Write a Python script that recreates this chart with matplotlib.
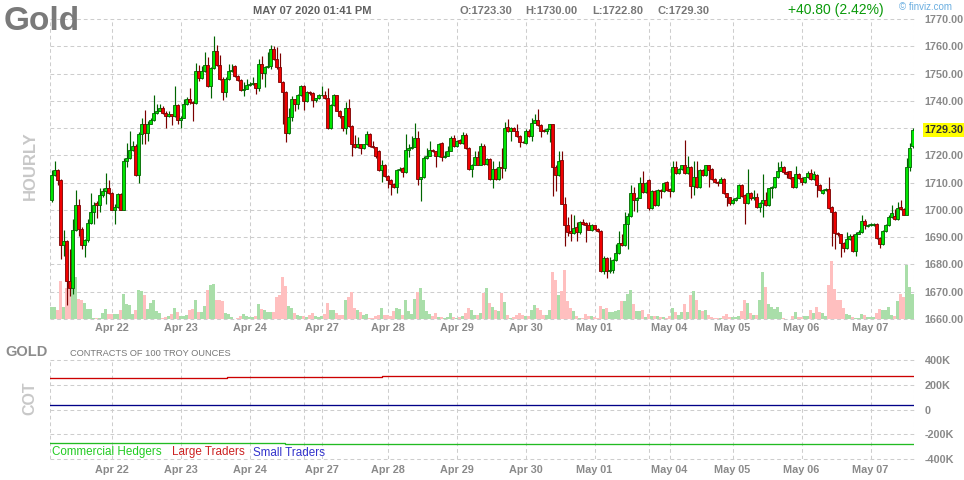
import matplotlib
matplotlib.use("Agg")
import matplotlib.pyplot as plt

plt.rcParams['font.family'] = ['Liberation Sans', 'DejaVu Sans']

# ---------------- data ----------------
opens = [
 1703.5,1712.8,1714.6,1711.0,1687.2,1688.5,1674.0,1671.5,1692.7,1701.7,
 1693.1,1687.2,1688.8,1695.3,1699.3,1702.7,1701.7,1705.4,1706.9,1707.9,
 1706.3,1700.1,1701.1,1705.7,1700.1,1717.8,1719.0,1722.1,1723.3,1712.8,
 1728.0,1731.4,1728.3,1731.6,1732.8,1735.6,1736.3,1737.3,1735.7,1734.4,
 1735.1,1734.3,1738.4,1732.8,1733.8,1738.8,1740.5,1739.4,1739.1,1750.9,
 1748.4,1750.9,1753.0,1745.3,1752.0,1758.3,1753.0,1748.0,1743.1,1748.0,
 1750.9,1752.7,1749.0,1747.8,1744.0,1744.4,1745.8,1746.2,1746.4,1744.7,
 1753.6,1750.1,1752.3,1752.6,1759.1,1755.4,1752.3,1747.0,1743.1,1728.3,
 1734.1,1740.5,1738.8,1742.2,1745.4,1739.8,1743.1,1742.7,1740.4,1741.0,
 1742.0,1742.1,1741.0,1729.9,1738.4,1742.0,1736.3,1734.3,1729.9,1737.5,
 1730.7,1724.2,1723.0,1724.0,1722.7,1724.0,1727.9,1723.6,1723.0,1721.7,
 1714.6,1716.5,1712.6,1711.0,1709.4,1708.3,1714.7,1715.3,1713.8,1722.1,
 1722.7,1723.2,1726.4,1711.2,1712.0,1719.0,1719.9,1722.0,1721.5,1719.6,
 1724.6,1719.3,1719.9,1721.7,1726.4,1723.3,1725.7,1724.4,1727.3,1722.7,
 1714.9,1716.5,1719.4,1716.5,1723.6,1716.8,1718.8,1711.2,1714.9,1711.2,
 1715.9,1715.3,1730.4,1728.9,1730.1,1729.1,1727.0,1724.9,1724.6,1729.1,
 1727.0,1732.0,1732.8,1731.1,1729.1,1729.0,1729.5,1731.4,1715.9,1712.8,
 1718.3,1702.3,1694.3,1692.2,1691.6,1693.7,1691.9,1695.6,1695.3,1694.3,
 1692.7,1694.3,1693.1,1692.2,1677.5,1682.2,1677.5,1678.0,1681.6,1684.2,
 1687.8,1687.2,1694.9,1697.8,1706.1,1703.6,1704.4,1710.0,1706.7,1711.0,
 1700.7,1706.9,1701.7,1707.3,1706.9,1710.4,1707.7,1706.9,1715.9,1713.5,
 1714.9,1716.3,1713.5,1715.9,1708.9,1712.2,1708.5,1714.6,1712.8,1716.3,
 1715.1,1711.2,1710.4,1710.0,1711.4,1706.1,1704.6,1702.7,1703.6,1704.4,
 1709.1,1705.4,1702.7,1706.3,1704.2,1704.8,1701.1,1702.6,1703.8,1701.7,
 1707.9,1708.3,1711.9,1714.3,1715.8,1713.8,1714.1,1711.9,1708.5,1713.1,
 1711.6,1710.4,1712.0,1713.5,1711.2,1712.8,1709.1,1706.1,1707.3,1707.7,
 1701.1,1699.3,1691.5,1691.0,1687.8,1685.9,1689.4,1690.6,1684.9,1691.2,
 1691.9,1695.8,1694.1,1694.3,1694.3,1694.9,1689.6,1687.5,1692.1,1694.3,
 1697.4,1697.7,1696.5,1701.1,1700.5,1698.3,1715.9,1723.3]

highs = [
 1714.7,1717.8,1715.1,1711.2,1692.5,1688.8,1685.7,1696.5,1707.3,1703.9,
 1693.6,1689.4,1696.8,1706.1,1703.0,1703.2,1707.9,1707.9,1713.5,1711.0,
 1706.7,1702.3,1706.1,1706.1,1719.0,1724.6,1729.1,1725.2,1724.0,1728.6,
 1733.6,1736.8,1732.6,1733.8,1742.1,1739.0,1738.8,1738.2,1736.1,1736.3,
 1735.3,1745.6,1738.8,1734.3,1740.6,1741.5,1744.7,1739.8,1753.8,1753.0,
 1752.7,1757.9,1756.0,1752.3,1763.8,1760.4,1756.7,1748.6,1748.6,1753.6,
 1753.6,1753.0,1749.3,1748.0,1746.8,1748.0,1746.8,1748.6,1746.7,1755.4,
 1756.3,1752.6,1757.9,1760.4,1760.1,1759.8,1757.5,1747.4,1743.7,1737.3,
 1741.9,1740.6,1742.5,1745.9,1745.8,1743.7,1743.5,1743.1,1741.2,1742.5,
 1745.6,1743.5,1744.7,1739.0,1742.5,1742.2,1736.5,1734.6,1739.4,1740.6,
 1731.0,1727.4,1726.7,1724.2,1724.2,1728.9,1728.3,1725.2,1723.2,1722.1,
 1718.4,1716.8,1712.8,1711.2,1709.8,1715.1,1715.6,1715.6,1727.7,1724.0,
 1727.0,1731.7,1728.9,1712.2,1719.6,1722.7,1725.4,1722.4,1721.7,1724.6,
 1724.8,1721.5,1723.3,1727.0,1727.4,1725.7,1725.9,1728.6,1728.2,1723.0,
 1716.8,1721.5,1721.5,1724.6,1724.2,1719.0,1719.0,1717.8,1715.3,1717.8,
 1722.7,1732.2,1733.2,1730.4,1730.4,1731.4,1727.4,1725.4,1729.5,1729.5,
 1733.6,1735.3,1736.9,1731.4,1729.5,1730.1,1731.6,1731.6,1716.5,1721.5,
 1721.5,1704.8,1697.4,1698.6,1698.0,1695.6,1695.8,1696.5,1695.6,1695.6,
 1694.9,1694.6,1693.5,1692.5,1683.2,1682.6,1682.6,1682.0,1687.5,1692.1,
 1691.0,1699.3,1699.0,1709.1,1708.5,1704.8,1711.9,1714.1,1710.4,1711.4,
 1707.3,1707.3,1707.7,1707.7,1710.4,1710.6,1707.9,1717.8,1717.8,1715.3,
 1716.5,1725.8,1719.6,1716.2,1717.8,1717.8,1714.9,1714.9,1716.5,1716.5,
 1715.3,1711.6,1710.6,1711.9,1711.6,1706.3,1704.8,1704.2,1704.8,1709.4,
 1709.4,1705.7,1715.1,1706.7,1707.3,1706.1,1703.0,1713.1,1706.7,1708.2,
 1708.6,1712.2,1717.4,1717.8,1716.2,1714.3,1714.3,1712.2,1716.2,1713.5,
 1711.9,1712.2,1714.3,1715.1,1714.3,1713.1,1709.4,1707.7,1707.9,1712.2,
 1701.4,1699.5,1691.9,1691.2,1688.2,1691.9,1691.2,1691.0,1691.9,1692.7,
 1698.0,1696.5,1694.9,1695.3,1695.3,1695.3,1690.0,1692.5,1694.9,1698.0,
 1701.7,1700.4,1703.0,1703.6,1700.7,1719.0,1724.6,1730.0]

lows = [
 1703.0,1712.6,1709.1,1682.0,1683.2,1665.3,1668.4,1669.0,1692.1,1690.6,
 1685.7,1682.6,1688.2,1694.9,1694.9,1697.2,1699.3,1704.8,1702.3,1705.9,
 1699.8,1694.9,1700.7,1699.8,1699.9,1715.9,1718.8,1721.7,1712.6,1709.8,
 1724.0,1724.0,1725.4,1731.4,1732.6,1735.3,1736.1,1735.3,1730.1,1734.1,
 1731.1,1734.1,1731.4,1730.1,1733.6,1738.4,1739.0,1732.6,1738.8,1747.4,
 1748.0,1750.5,1744.9,1741.2,1751.7,1752.6,1747.6,1740.2,1741.5,1747.8,
 1750.5,1748.6,1747.4,1743.5,1741.9,1744.2,1745.6,1745.9,1742.5,1743.7,
 1748.0,1744.9,1752.1,1751.7,1755.1,1751.7,1746.8,1731.4,1724.8,1727.9,
 1732.6,1736.3,1736.9,1741.9,1736.7,1739.4,1742.2,1737.9,1739.4,1740.6,
 1741.7,1740.7,1729.5,1729.5,1738.0,1736.1,1733.8,1729.1,1727.9,1730.4,
 1719.6,1722.7,1722.7,1720.5,1722.4,1723.7,1723.2,1722.7,1719.0,1714.3,
 1710.4,1712.2,1707.9,1705.4,1707.9,1706.1,1714.3,1712.0,1713.5,1719.3,
 1722.5,1723.0,1709.1,1703.3,1711.6,1718.8,1719.6,1721.1,1715.9,1719.3,
 1717.8,1719.0,1719.6,1721.5,1723.0,1723.1,1724.2,1724.2,1722.5,1714.6,
 1711.9,1716.3,1716.3,1716.3,1716.5,1716.5,1711.0,1707.9,1711.0,1711.0,
 1711.6,1714.1,1728.6,1725.2,1728.9,1726.7,1723.0,1724.6,1724.3,1726.7,
 1725.4,1731.7,1730.7,1726.7,1728.6,1727.7,1724.9,1705.2,1706.9,1712.6,
 1702.0,1686.9,1690.6,1688.5,1691.2,1688.5,1691.2,1694.6,1688.2,1692.5,
 1692.1,1692.7,1691.9,1677.3,1676.4,1675.2,1677.0,1676.8,1681.2,1683.8,
 1686.9,1686.9,1685.7,1697.4,1699.5,1699.3,1704.2,1706.3,1706.3,1699.9,
 1700.5,1701.4,1701.4,1704.4,1706.7,1706.9,1704.8,1706.7,1713.1,1713.1,
 1714.6,1713.1,1713.1,1704.4,1705.4,1708.2,1708.2,1712.6,1712.6,1708.5,
 1710.9,1710.0,1708.9,1709.8,1705.7,1701.5,1701.7,1702.3,1703.2,1704.2,
 1704.7,1694.9,1702.3,1703.8,1703.8,1700.7,1699.3,1697.4,1701.4,1701.4,
 1704.4,1707.9,1711.6,1714.1,1713.1,1711.6,1711.2,1708.2,1708.2,1711.2,
 1709.1,1710.0,1711.6,1710.9,1710.9,1704.8,1706.9,1705.7,1706.9,1700.5,
 1686.9,1685.7,1690.6,1682.6,1684.4,1685.7,1689.1,1684.7,1683.2,1691.0,
 1691.6,1693.1,1693.7,1694.0,1694.1,1689.4,1685.9,1687.2,1691.9,1694.1,
 1697.0,1696.2,1696.2,1699.9,1698.0,1698.0,1714.1,1722.8]

closes = [
 1712.8,1714.6,1711.0,1687.2,1688.5,1674.0,1671.5,1692.7,1701.7,1693.1,
 1687.2,1688.8,1695.3,1699.3,1701.7,1701.7,1705.4,1706.9,1707.9,1706.3,
 1700.1,1701.1,1705.7,1700.1,1717.8,1719.0,1722.1,1723.6,1712.8,1728.0,
 1731.4,1728.3,1731.6,1732.8,1735.6,1736.3,1737.3,1735.7,1734.4,1735.1,
 1734.3,1738.4,1732.8,1733.8,1738.8,1740.5,1739.4,1739.1,1750.9,1748.4,
 1750.9,1753.0,1745.3,1752.0,1758.3,1753.0,1748.0,1743.1,1748.0,1750.9,
 1751.4,1749.0,1747.8,1744.0,1744.4,1745.8,1746.2,1746.4,1744.7,1753.6,
 1750.1,1752.3,1752.6,1759.1,1755.4,1752.3,1747.0,1743.1,1728.3,1734.1,
 1740.5,1738.8,1742.2,1745.4,1739.8,1743.1,1742.7,1740.4,1741.0,1742.0,
 1742.1,1741.0,1729.9,1738.4,1742.0,1736.3,1734.3,1729.9,1737.2,1730.7,
 1724.2,1723.0,1724.0,1722.7,1724.0,1727.9,1723.6,1723.0,1719.6,1714.6,
 1716.5,1712.6,1711.0,1709.4,1708.3,1714.7,1715.1,1713.8,1722.1,1722.7,
 1723.2,1726.4,1711.2,1712.0,1719.0,1719.9,1722.0,1721.5,1719.6,1724.3,
 1719.3,1719.9,1721.7,1726.4,1723.3,1725.2,1724.4,1727.3,1722.7,1714.9,
 1716.5,1719.4,1716.5,1723.6,1716.8,1718.8,1711.2,1714.9,1711.2,1715.9,
 1715.3,1730.1,1728.9,1730.1,1729.1,1727.0,1724.9,1724.8,1729.1,1727.0,
 1732.0,1732.8,1731.1,1729.1,1729.0,1729.5,1731.4,1715.9,1712.8,1718.0,
 1702.3,1694.3,1691.9,1691.6,1693.5,1691.9,1695.6,1694.9,1694.3,1692.7,
 1694.3,1693.1,1692.2,1677.5,1682.2,1677.5,1678.0,1681.6,1684.2,1687.8,
 1687.2,1694.9,1697.8,1706.1,1703.6,1704.4,1710.0,1706.7,1710.0,1700.7,
 1706.9,1701.7,1707.3,1706.9,1710.0,1707.3,1706.9,1715.9,1713.5,1714.9,
 1716.3,1713.5,1715.9,1708.9,1712.2,1708.5,1714.6,1712.8,1716.3,1714.6,
 1711.2,1710.4,1710.0,1711.4,1706.1,1704.6,1702.7,1703.6,1704.4,1709.1,
 1705.1,1702.7,1706.3,1704.2,1704.8,1701.1,1702.6,1703.8,1701.7,1707.9,
 1708.3,1711.9,1714.3,1715.8,1713.8,1713.3,1711.6,1708.5,1713.1,1711.6,
 1710.4,1712.0,1713.5,1711.2,1713.1,1709.1,1707.3,1707.3,1707.7,1700.7,
 1699.3,1691.5,1691.0,1687.8,1685.9,1689.4,1690.6,1684.9,1691.2,1691.9,
 1695.8,1694.6,1694.6,1694.9,1694.9,1689.6,1687.5,1692.1,1694.3,1697.4,
 1698.9,1696.5,1700.7,1700.2,1698.3,1715.9,1722.8,1729.3]

volumes = [
 3700,3700,2800,11300,3700,9300,11300,12700,12700,6100,
 5700,4700,3000,3100,300,300,300,1800,3100,1600,
 1600,1600,1600,2600,7600,4600,4300,1600,2800,8800,
 8500,7300,3000,4700,5700,2300,1800,300,700,800,
 1500,3300,2000,1000,1000,1300,2600,3000,5600,2000,
 2000,4000,8800,10300,10500,5800,5600,5500,1800,1600,
 500,100,300,800,1600,1000,500,500,1000,4600,
 3100,2600,2200,2200,2000,6500,7300,12700,10000,4000,
 3300,1800,1300,800,1000,600,1100,1800,1000,600,
 1000,1500,4900,2800,2600,1800,1300,1300,5800,6700,
 8200,3300,2800,2000,1300,1600,300,300,1000,1300,
 3300,1300,1300,1000,2300,3300,3100,1300,5800,2300,
 1600,6100,8200,9300,5800,2500,1600,800,1800,500,
 600,300,500,1800,600,300,500,1000,1800,3300,
 2800,1300,1300,1800,7700,9300,4900,3600,2600,2500,
 7700,5200,1300,300,700,1300,1800,1300,1000,800,
 2600,4300,3300,2600,1300,1300,2800,14000,11600,7300,
 8500,14700,5500,3300,2500,1000,300,300,1600,800,
 800,500,300,4000,3100,3300,2100,2100,2300,2800,
 5500,5500,7600,8800,4600,2500,2500,2800,500,1600,
 800,1000,1000,600,700,300,1000,3300,2100,1300,
 2000,4600,2200,7300,8500,5800,2800,2500,2800,1300,
 600,300,300,300,1000,1600,700,500,500,1000,
 2500,5800,4800,1800,1300,1300,5800,14200,9700,4600,
 3600,3100,3700,2200,300,100,100,1000,2200,600,
 500,800,1000,2800,1800,3600,2200,1800,1000,10300,
 17500,9000,5600,5800,3300,1500,1300,700,300,300,
 1600,1300,700,700,700,1800,3100,2800,2800,3700,
 1300,1000,5500,7600,6700,16300,9700,7500]

day_labels = ["Apr 22", "Apr 23", "Apr 24", "Apr 27", "Apr 28", "Apr 29",
              "Apr 30", "May 01", "May 04", "May 05", "May 06", "May 07"]
day_first_bar = [20, 43, 66, 90, 112, 135, 158, 181, 206, 227, 250, 273]
session_open_bar = [84, 199]

price_ticks = [1660, 1670, 1680, 1690, 1700, 1710, 1720, 1730, 1740, 1750, 1760, 1770]
last_price = 1729.30
title = "Gold"
stamp = "MAY 07 2020 01:41 PM"
ohlc_text = ["O:1723.30", "H:1730.00", "L:1722.80", "C:1729.30"]
change_text = "+40.80 (2.42%)"

cot_ticks = [-400000, -200000, 0, 200000, 400000]
cot_tick_labels = ["-400K", "-200K", "0", "200K", "400K"]
commercial_from_bar = [-0.5, 77.8]
commercial_values = [-274000, -282000]
large_from_bar = [-0.5, 58.4, 110.1]
large_values = [254000, 261000, 272000]
small_from_bar = [-0.5]
small_values = [38000]

# ---------------- figure ----------------
W, H = 964, 480
fig = plt.figure(figsize=(W / 100, H / 100), dpi=100)
fig.patch.set_facecolor('white')

def fx(x):
    return x / W

def fy(y):
    return 1 - y / H

n = len(closes)
idx = list(range(n))
xlim = (-0.5, n - 0.5)

GRID = dict(color='#cdcdcd', linewidth=0.75, linestyle=(0, (3.6, 2.8)))
LBL = '#8a8a8a'

rect_main = [fx(50), fy(319), fx(914) - fx(50), fy(19) - fy(319)]
axv = fig.add_axes(rect_main)              # volume (bottom layer)
ax = fig.add_axes(rect_main, sharex=axv)   # price (top layer)
ax.patch.set_alpha(0)

for a in (ax, axv):
    for s in a.spines.values():
        s.set_visible(False)

ax.set_xlim(*xlim)
ax.set_ylim(price_ticks[0], price_ticks[-1])
axv.set_ylim(0, 90000)
axv.set_yticks([])
axv.tick_params(axis='x', length=0, labelbottom=False)

# grid on the bottom layer
for p in price_ticks:
    axv.plot(xlim, [p, p], transform=ax.transData, zorder=0, clip_on=False, **GRID)
for xb in day_first_bar + session_open_bar + [xlim[0], xlim[1]]:
    axv.axvline(xb, zorder=0, **GRID)

# volume
vcol = ['#a9dea9' if c >= o else '#ffbfbf' for o, c in zip(opens, closes)]
axv.bar(idx, volumes, width=1.0, color=vcol, linewidth=0, zorder=1)

# candles
fills = ['#00e600' if c >= o else '#f00000' for o, c in zip(opens, closes)]
edges = ['#006400' if c >= o else '#7a0000' for o, c in zip(opens, closes)]
bottoms = [min(o, c) for o, c in zip(opens, closes)]
heights = [max(abs(c - o), 0.2) for o, c in zip(opens, closes)]
ax.vlines(idx, lows, highs, colors=edges, linewidth=0.85, zorder=2)
ax.bar(idx, heights, bottom=bottoms, width=0.78, color=fills,
       edgecolor=edges, linewidth=0.6, zorder=3)

# price axis labels on the right
ax.yaxis.tick_right()
ax.set_yticks(price_ticks)
ax.set_yticklabels(['' if abs(p - last_price) < 4 else f"{p:.2f}" for p in price_ticks])
ax.tick_params(axis='y', length=0, pad=7.5, labelsize=7.8, labelcolor=LBL)
for t in ax.get_yticklabels():
    t.set_fontweight('bold')
ax.text(1.0125, last_price, f"{last_price:.2f}", transform=ax.get_yaxis_transform(),
        ha='left', va='center', fontsize=7.8, fontweight='bold', color='#333333',
        bbox=dict(boxstyle='square,pad=0.15', fc='#ffff00', ec='none'), clip_on=False)

ax.set_xticks(day_first_bar)
ax.set_xticklabels(day_labels)
ax.tick_params(axis='x', length=0, pad=3, labelsize=7.8, labelcolor=LBL)
for t in ax.get_xticklabels():
    t.set_fontweight('bold')

# ---------------- COT panel ----------------
axc = fig.add_axes([fx(50), fy(459), fx(914) - fx(50), fy(360) - fy(459)])
for s in axc.spines.values():
    s.set_visible(False)
axc.set_xlim(*xlim)
axc.set_ylim(cot_ticks[0], cot_ticks[-1])
for v in cot_ticks:
    axc.axhline(v, zorder=0, clip_on=False, **GRID)
for xb in day_first_bar + session_open_bar + [xlim[0], xlim[1]]:
    axc.axvline(xb, zorder=0, **GRID)

def steps(starts, values):
    xs = list(starts) + [n - 1]
    ys = list(values) + [values[-1]]
    return xs, ys

xs, ys = steps(large_from_bar, large_values)
axc.step(xs, ys, where='post', color='#cc0000', linewidth=0.95, zorder=3)
xs, ys = steps(small_from_bar, small_values)
axc.step(xs, ys, where='post', color='#000088', linewidth=0.95, zorder=3)
xs, ys = steps(commercial_from_bar, commercial_values)
axc.step(xs, ys, where='post', color='#22bb22', linewidth=0.95, zorder=3)

axc.yaxis.tick_right()
axc.set_yticks(cot_ticks)
axc.set_yticklabels(cot_tick_labels)
axc.tick_params(axis='y', length=0, pad=7.5, labelsize=7.8, labelcolor=LBL)
for t in axc.get_yticklabels():
    t.set_fontweight('bold')
axc.set_xticks(day_first_bar)
axc.set_xticklabels(day_labels)
axc.tick_params(axis='x', length=0, pad=4.5, labelsize=7.8, labelcolor=LBL)
for t in axc.get_xticklabels():
    t.set_fontweight('bold')

# ---------------- texts ----------------
fig.text(fx(4), fy(29.5), title, fontsize=24, fontweight='bold', color='#7a7a7a',
         ha='left', va='baseline')
fig.text(fx(253), fy(13.5), stamp, fontsize=8, fontweight='bold', color='#606060',
         ha='left', va='baseline')
for xpos, s in zip([459, 525, 592, 657], ohlc_text):
    fig.text(fx(xpos), fy(13.5), s, fontsize=8, fontweight='bold', color='#777777',
             ha='left', va='baseline')
fig.text(fx(788), fy(14), change_text, fontsize=10, color='#0a9a0a',
         ha='left', va='baseline')
fig.text(fx(899), fy(10.5), "\u00a9 finviz.com", fontsize=7, color='#6aaee0',
         ha='left', va='baseline')

fig.text(fx(30), fy(166), "HOURLY", rotation=90, fontsize=12, fontweight='bold',
         color='#c8c8c8', ha='center', va='center')
fig.text(fx(30), fy(398), "COT", rotation=90, fontsize=11.5, fontweight='bold',
         color='#c8c8c8', ha='center', va='center')
fig.text(fx(5), fy(356), "GOLD", fontsize=10.5, fontweight='bold', color='#8c8c8c',
         ha='left', va='baseline')
fig.text(fx(70), fy(355.5), "CONTRACTS OF 100 TROY OUNCES", fontsize=6.7,
         color='#777777', ha='left', va='baseline')
fig.text(fx(52), fy(455.5), "Commercial Hedgers", fontsize=8.4, color='#22cc22',
         ha='left', va='baseline')
fig.text(fx(172), fy(455.5), "Large Traders", fontsize=8.4, color='#cc2222',
         ha='left', va='baseline')
fig.text(fx(253), fy(455.5), "Small Traders", fontsize=8.4, color='#3333cc',
         ha='left', va='baseline')

fig.savefig("out.png", dpi=100, facecolor='white')
